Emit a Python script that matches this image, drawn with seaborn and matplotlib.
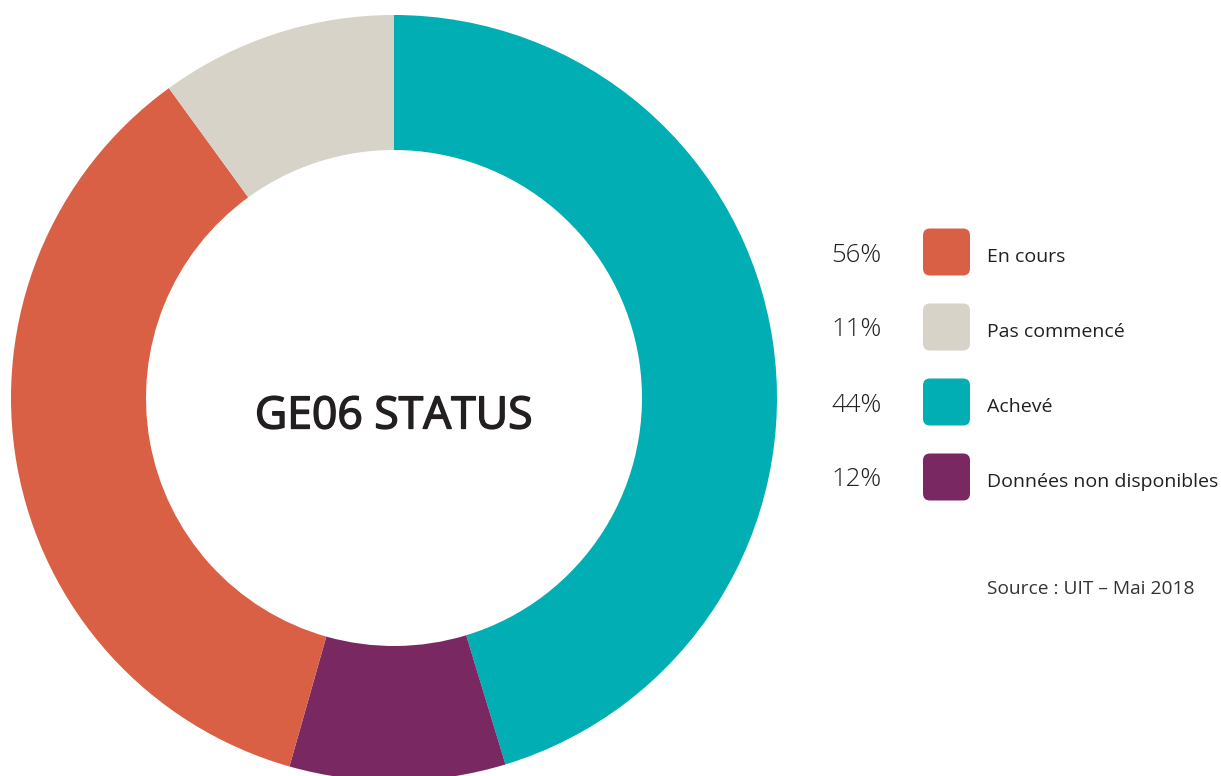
import matplotlib
matplotlib.use("Agg")
import matplotlib.pyplot as plt
import matplotlib.patheffects as pe
import seaborn as sns
from matplotlib.patches import FancyBboxPatch

# -----------------------------------------------------
# Data (legend order)
# -----------------------------------------------------
categories = ["En cours", "Pas commencé", "Achevé", "Données non disponibles"]
label_pcts = ["56%", "11%", "44%", "12%"]
# share of the ring as drawn in the source picture
slice_values = [35.6, 10.0, 45.3, 9.1]
colors = ["#D96044", "#D7D3C8", "#00AEB3", "#7A2862"]

# ring is drawn clockwise from 12 o'clock starting with "Achevé"
pie_order = [2, 3, 0, 1]

center_title = "GE06 STATUS"
source_note = "Source : UIT \u2013 Mai 2018"

# -----------------------------------------------------
# Style
# -----------------------------------------------------
sns.set_theme(style="white")
plt.rcParams["font.family"] = ["Open Sans", "Noto Sans", "DejaVu Sans"]
text_color = "#231F20"

W, H = 1221, 776
fig = plt.figure(figsize=(W / 100, H / 100), dpi=100)
fig.patch.set_facecolor("white")

# -----------------------------------------------------
# Donut
# -----------------------------------------------------
cx, cy, r_out, r_in = 394, 398, 383, 248
ax = fig.add_axes([(cx - r_out) / W, (H - cy - r_out) / H,
                   2 * r_out / W, 2 * r_out / H])
ax.pie([slice_values[i] for i in pie_order],
       colors=[colors[i] for i in pie_order],
       startangle=90, counterclock=False, radius=1.0,
       wedgeprops=dict(width=1 - r_in / r_out, edgecolor="none", linewidth=0))
ax.set_xlim(-1, 1)
ax.set_ylim(-1, 1)
ax.set_aspect("equal")
ax.axis("off")

# medium-weight look: regular face with a thin stroke
ax.text(0, -0.05, center_title, ha="center", va="center",
        fontsize=32, color=text_color,
        path_effects=[pe.withStroke(linewidth=1.1, foreground=text_color)])

# -----------------------------------------------------
# Legend (manual, figure pixel coords)
# -----------------------------------------------------
lg = fig.add_axes([0, 0, 1, 1])
lg.set_xlim(0, W)
lg.set_ylim(H, 0)
lg.axis("off")

row_y = [252, 327, 402, 477]
box = 47
for yc, pct, cat, col in zip(row_y, label_pcts, categories, colors):
    lg.text(831, yc + 3, pct, ha="left", va="center", fontsize=18.5,
            fontweight="light", color=text_color)
    lg.add_patch(FancyBboxPatch((923 + 7, yc - box / 2 + 7), box - 14, box - 14,
                                boxstyle="round,pad=7", facecolor=col,
                                edgecolor="none"))
    lg.text(987, yc + 5, cat, ha="left", va="center", fontsize=14,
            color=text_color)

lg.text(987, 589, source_note, ha="left", va="center", fontsize=13.8,
        color="#333333")

fig.savefig("out.png", dpi=100, facecolor="white")
